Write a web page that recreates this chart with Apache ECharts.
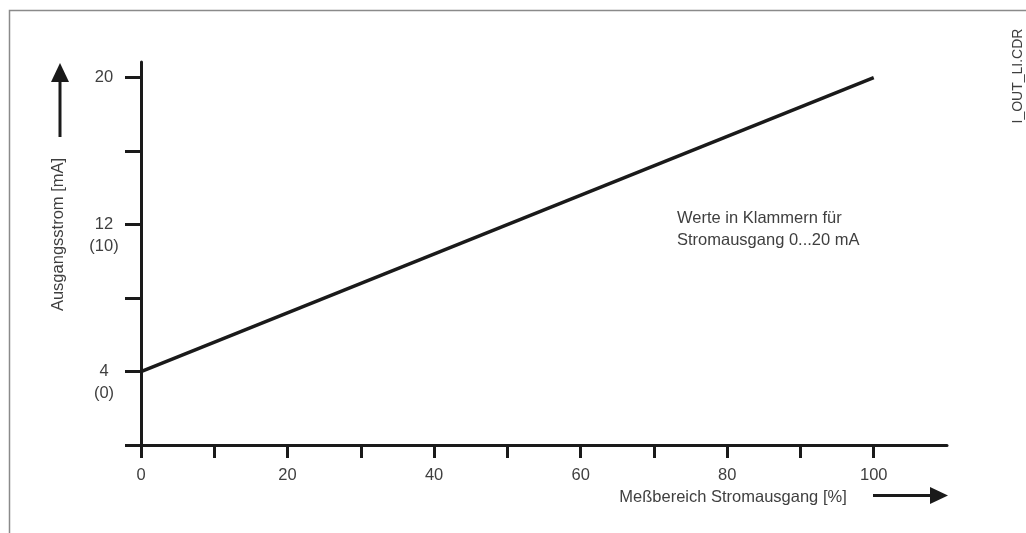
<!DOCTYPE html>
<html>
<head>
<meta charset="utf-8">
<script src="https://cdn.jsdelivr.net/npm/echarts@6/dist/echarts.min.js"></script>
<style>
html,body{margin:0;padding:0;background:#fff;}
#c{width:1026px;height:533px;}
</style>
</head>
<body>
<div id="c"></div>
<script>
// Data
var xValues = [0, 100];           // Meßbereich [%]
var yValues = [4, 20];            // Ausgangsstrom [mA]
var xTickValues = [0, 10, 20, 30, 40, 50, 60, 70, 80, 90, 100];
var xLabelValues = [0, 20, 40, 60, 80, 100];
var yTickValues = [0, 4, 8, 12, 16, 20];
var yLabelValues = [4, 12, 20];
var yLabelMain = ['4', '12', '20'];
var yLabelAlt = ['(0)', '(10)', ''];
var xAxisName = 'Meßbereich Stromausgang [%]';
var yAxisName = 'Ausgangsstrom [mA]';
var noteLines = ['Werte in Klammern für', 'Stromausgang 0...20 mA'];
var fileLabel = 'I_OUT_LI.CDR';

var FONT = '"Liberation Sans", Arial, sans-serif';
var TXT = '#3f3f3f';
var INK = '#1a1a1a';

var lineData = xValues.map(function (x, i) { return [x, yValues[i]]; });

var chart = echarts.init(document.getElementById('c'), null, {renderer: 'canvas'});
chart.setOption({
  animation: false,
  backgroundColor: '#fff',
  grid: {left: 141, right: 79, top: 62, bottom: 88, containLabel: false},
  xAxis: {
    type: 'value', min: 0, max: 110,
    splitLine: {show: false},
    axisLine: {show: true, lineStyle: {color: INK, width: 3}},
    axisTick: {show: true, customValues: xTickValues, length: 13, lineStyle: {color: INK, width: 3}},
    axisLabel: {customValues: xLabelValues, margin: 22, color: TXT, fontFamily: FONT, fontSize: 16.5}
  },
  yAxis: {
    type: 'value', min: 0, max: 20.85,
    splitLine: {show: false},
    axisLine: {show: true, onZero: false, lineStyle: {color: INK, width: 3}},
    axisTick: {show: true, customValues: yTickValues, length: 16, lineStyle: {color: INK, width: 3}},
    axisLabel: {
      customValues: yLabelValues, margin: 37, align: 'center',
      color: TXT, fontFamily: FONT, fontSize: 16.5, lineHeight: 22,
      formatter: function (v) {
        var i = yLabelValues.indexOf(v);
        if (i < 0) return '';
        if (yLabelAlt[i]) return ' \n' + yLabelMain[i] + '\n' + yLabelAlt[i];
        return yLabelMain[i];
      }
    }
  },
  series: [{
    type: 'line',
    data: lineData,
    showSymbol: false,
    lineStyle: {color: INK, width: 3.5},
    z: 3
  }],
  graphic: [
    {type: 'rect', shape: {x: 9.5, y: 10.5, width: 1100, height: 600},
      style: {fill: null, stroke: '#8a8a8a', lineWidth: 1.5}, silent: true},
    // y-axis name + arrow
    {type: 'text', x: 58, y: 234.5, rotation: Math.PI / 2,
      style: {text: yAxisName, font: '16.5px ' + FONT, fill: TXT, align: 'center', verticalAlign: 'middle'}},
    {type: 'line', shape: {x1: 60, y1: 137, x2: 60, y2: 80}, style: {stroke: INK, lineWidth: 3}},
    {type: 'polygon', shape: {points: [[60, 63], [51, 82], [69, 82]]}, style: {fill: INK}},
    // x-axis name + arrow
    {type: 'text', x: 733, y: 497,
      style: {text: xAxisName, font: '16.5px ' + FONT, fill: TXT, align: 'center', verticalAlign: 'middle'}},
    {type: 'line', shape: {x1: 873, y1: 495.5, x2: 932, y2: 495.5}, style: {stroke: INK, lineWidth: 3}},
    {type: 'polygon', shape: {points: [[948, 495.5], [930, 487], [930, 504]]}, style: {fill: INK}},
    // note
    {type: 'text', x: 677, y: 207,
      style: {text: noteLines.join('\n'), font: '16.5px ' + FONT, fill: TXT, lineHeight: 22, align: 'left', verticalAlign: 'top'}},
    // file label
    {type: 'text', x: 1018, y: 76, rotation: Math.PI / 2,
      style: {text: fileLabel, font: '14px ' + FONT, fill: TXT, align: 'center', verticalAlign: 'middle'}}
  ]
});
</script>
</body>
</html>
